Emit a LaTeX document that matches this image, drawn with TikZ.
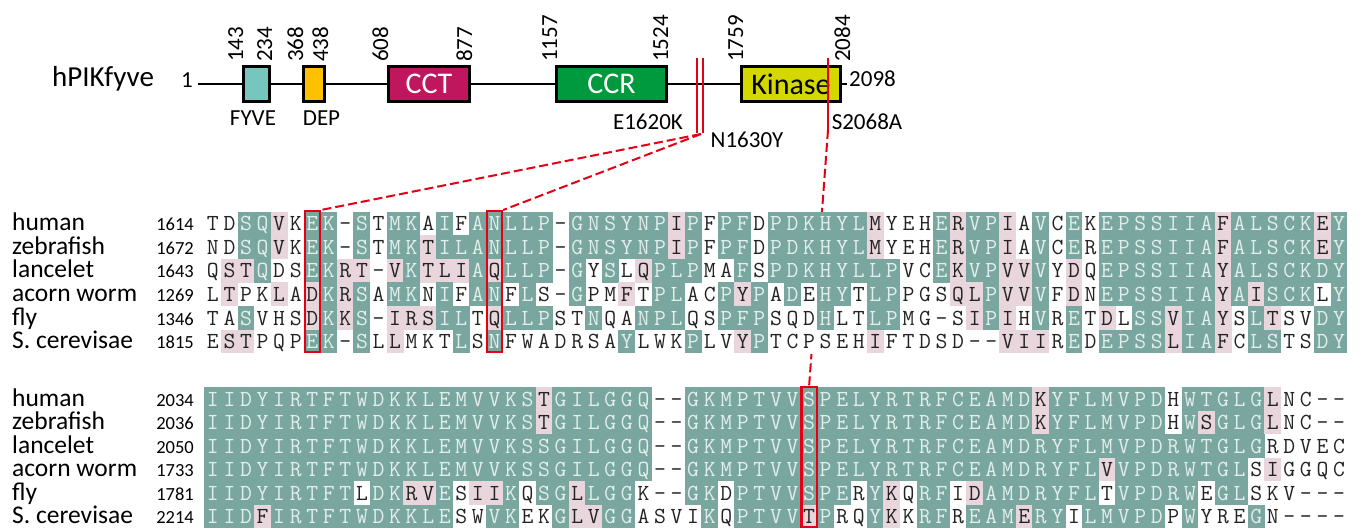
\documentclass[tikz,border=0pt]{standalone}
\usepackage{fontspec}
\setmainfont{Carlito}

\definecolor{identbg}{RGB}{121,167,160}
\definecolor{simbg}{RGB}{233,214,220}
\definecolor{lighttxt}{RGB}{226,238,235}
\definecolor{darktxt}{RGB}{35,35,35}
\definecolor{mutred}{RGB}{228,0,20}
\definecolor{fyvecol}{RGB}{118,198,190}
\definecolor{depcol}{RGB}{255,192,0}
\definecolor{cctcol}{RGB}{192,22,94}
\definecolor{ccrcol}{RGB}{0,154,62}
\definecolor{kincol}{RGB}{212,216,0}

\pgfdeclarelayer{bottom}
\pgfdeclarelayer{behind}
\pgfsetlayers{bottom,behind,main}

% alignment grid
\def\colxzero{212.9}
\def\colw{16.56}
\def\halfcol{8.45}
\def\rowh{23.8}
\newcount\colno

% one residue: letter #1, shading code #2 (t = identical, p = similar, w = none)
\newcommand\drawcell[2]{%
  \pgfmathsetmacro\cx{\colxzero+\colw*\the\colno}%
  \def\restxt{darktxt}%
  \if t#2\fill[identbg] (\cx-\halfcol,\rowtop) rectangle (\cx+\halfcol,\rowtop+\rowh);\def\restxt{lighttxt}\fi
  \if p#2\fill[simbg] (\cx-\halfcol,\rowtop) rectangle (\cx+\halfcol,\rowtop+\rowh);\fi
  \node[residue, text=\restxt] (\rowtag-\the\colno) at (\cx,\rowtop+19) {#1};}
\def\walkcells#1#2\stopA#3#4\stopB{%
  \ifx.#1\else
    \drawcell{#1}{#3}%
    \global\advance\colno by 1
    \walkcells#2\stopA#4\stopB
  \fi}
% tag, top of row, residues, shading
\newcommand\seqrow[4]{%
  \def\rowtag{#1}\def\rowtop{#2}%
  \global\colno=0
  \walkcells#3.\stopA#4.\stopB}

\tikzset{
  residue/.style={font=\ttfamily\fontsize{23}{23}\selectfont, anchor=base, inner sep=0pt},
  spname/.style={font=\fontsize{25.5}{25.5}\selectfont, anchor=base west, inner sep=0pt},
  startnum/.style={font=\fontsize{18.5}{18.5}\selectfont, anchor=base east, inner sep=0pt},
  dombox/.style={draw=black, line width=2.7pt, minimum height=35.5pt, inner sep=0pt, font=\fontsize{30}{30}\selectfont},
  posnum/.style={font=\fontsize{23}{23}\selectfont, rotate=90, anchor=base west, inner sep=0pt},
  domlabel/.style={font=\fontsize{23}{23}\selectfont, anchor=base, inner sep=0pt},
  hitbox/.style={draw=mutred, line width=2.4pt, minimum width=15.2pt, inner sep=0pt},
  mutline/.style={mutred, line width=2pt},
  mutdash/.style={mutred, line width=2pt, dash pattern=on 9pt off 4pt},
}

\begin{document}
\begin{tikzpicture}[x=1pt, y=-1pt]
  \useasboundingbox (0,0) rectangle (1362,529);
  \begin{pgfonlayer}{bottom}
    \fill[white] (0,0) rectangle (1362,529);
  \end{pgfonlayer}

  % domain map
  \node[anchor=base west, font=\fontsize{29}{29}\selectfont, inner sep=0pt] (prot) at (52,87) {hPIKfyve};
  \node[anchor=base east, font=\fontsize{23}{23}\selectfont, inner sep=0pt] (nterm) at (193,88) {1};
  \coordinate (lstart) at (198,84);
  \coordinate (lend) at (847,84);
  \draw[line width=2pt] (lstart) -- (lend);
  \node[dombox, fill=fyvecol, minimum width=26.4pt] (fyve) at (256.5,84) {};
  \node[dombox, fill=depcol, minimum width=21.4pt] (dep) at (314,84) {};
  \node[dombox, fill=cctcol, text=white, minimum width=81.4pt] (cct) at (429,84) {CCT};
  \node[dombox, fill=ccrcol, text=white, minimum width=110.4pt] (ccr) at (611.5,84) {CCR};
  \node[dombox, fill=kincol, minimum width=99.4pt] (kin) at (791,84) {Kinase};
  \node[domlabel] (fyvelab) at (253,126) {FYVE};
  \node[domlabel] (deplab) at (321.5,126) {DEP};
  \node[anchor=base west, font=\fontsize{23}{23}\selectfont, inner sep=0pt] (cterm) at (849,87) {2098};
  \foreach \x/\v in {243/143, 272/234, 303/368, 328/438, 388/608, 472/877, 557/1157, 668/1524, 743/1759, 850/2084}
    \node[posnum] (p\v) at (\x,62) {\v};

  % mutations
  \coordinate (ntopA) at (697,58);
  \coordinate (nbotA) at (697,133);
  \coordinate (ntopB) at (703,58);
  \coordinate (nbotB) at (703,133);
  \coordinate (nfoot) at (701,134);
  \coordinate (ktop) at (828,58);
  \coordinate (kbot) at (828,130);
  \draw[mutline] (ntopA) -- (nbotA);
  \draw[mutline] (ntopB) -- (nbotB);
  \draw[mutline] (ktop) -- (kbot);
  \node[domlabel] (mutE) at (648,130) {E1620K};
  \node[domlabel] (mutN) at (747,148) {N1630Y};
  \node[domlabel] (mutS) at (867,130) {S2068A};

  % first alignment block
  \fill[white] (204.5,212) rectangle (1348.5,353.5);
  \foreach \sp/\num [count=\r from 0] in {human/1614, zebrafish/1672, lancelet/1643, acorn worm/1269, fly/1346, S. cerevisae/1815} {
    \node[spname] (spA\r) at (12,231+23.5*\r) {\sp};
    \node[startnum] (stA\r) at (194,231+23.5*\r) {\num};
  }
  \seqrow{huA}{212}{TDSQVKEK-S TMKAIFANLL P-GNSYNPIP FPFDPDKHYL MYEHERVPIA VCEKEPSSII AFALSCKEY}
                   {wwttpwttwt wttwtwtttt twttttttpt wttwtttttt pwwwtpttpw twtwtttttt tptttttpt}
  \seqrow{zfA}{235.5}{NDSQVKEK-S TMKTILANLL P-GNSYNPIP FPFDPDKHYL MYEHERVPIA VCEREPSSII AFALSCKEY}
                     {wwttpwttwt wttptttttt twttttttpt wttwtttttt pwwwtpttpw twtwtttttt tptttttpt}
  \seqrow{lcA}{259}{QSTQDSEKRT -VKTLIAQLL P-GYSLQPLP MAFSPDKHYL LPVCEKVPVV VYDQEPSSII AYALSCKDY}
                   {wpptwwttpp wptppptptt twtwtwpttt wwtwtttttt ttwwtpttpp twpwtttttt tpttttttt}
  \seqrow{awA}{282.5}{LTPKLADKRS AMKNIFANFL S-GPMFTPLA CPYPADEHYT LPPGSQLPVV VFDNEPSSII AYAISCKLY}
                     {wpwwpwptpt wttwtwttwt wwtwwpwttw wtptwtwttw ttwwwpptpp twpwtttttt tptptttwt}
  \seqrow{flA}{306}{TASVHSDKKS -IRSILTQLL PSTNQANPLQ SPFPSQDHLT LPMG-SIPIH VRETDLSSVI AYSLTSVDY}
                   {wwtwwwptpt wpppttwptt twwtwwtttw wtttwwwtww ttwwwwptpw twtwpwttpt tpwtpwwtt}
  \seqrow{scA}{329.5}{ESTPQPEK-S LLMKTLSNFW ADRSAYLWKP LVYPTCPSEH IFTDSD--VI IREDEPSSLI AFCLSTSDY}
                     {wppwwwttwt wpwwwtwtww wwwwwtwwwt wwptwwwwww pwwwwwwwpp pwtwttttpt tpwttwwtt}

  % second alignment block
  \foreach \sp/\num [count=\r from 0] in {human/2034, zebrafish/2036, lancelet/2050, acorn worm/1733, fly/1781, S. cerevisae/2214} {
    \node[spname] (spB\r) at (12,406+23.5*\r) {\sp};
    \node[startnum] (stB\r) at (194,406+23.5*\r) {\num};
  }
  \seqrow{huB}{387}{IIDYIRTFTW DKKLEMVVKS TGILGGQ--G KMPTVVSPEL YRTRFCEAMD KYFLMVPDHW TGLGLNC--}
                   {tttttttttt tttttttttt pttttttwwt tttttttttt tttttttttt ptttttttwt ttttpwwww}
  \seqrow{zfB}{410.5}{IIDYIRTFTW DKKLEMVVKS TGILGGQ--G KMPTVVSPEL YRTRFCEAMD KYFLMVPDHW SGLGLNC--}
                     {tttttttttt tttttttttt pttttttwwt tttttttttt tttttttttt ptttttttwt ptttpwwww}
  \seqrow{lcB}{434}{IIDYIRTFTW DKKLEMVVKS SGILGGQ--G KMPTVVSPEL YRTRFCEAMD RYFLMVPDRW TGLGRDVEC}
                   {tttttttttt tttttttttt tttttttwwt tttttttttt tttttttttt tttttttttt ttttwwwww}
  \seqrow{awB}{457.5}{IIDYIRTFTW DKKLEMVVKS SGILGGQ--G KMPTVVSPEL YRTRFCEAMD RYFLVVPDRW TGLSIGGQC}
                     {tttttttttt tttttttttt tttttttwwt tttttttttt tttttttttt ttttpttttt tttwpwwww}
  \seqrow{flB}{481}{IIDYIRTFTL DKRVESIIKQ SGLLGGK--G KDPTVVSPER YKQRFIDAMD RYFLTVPDRW EGLSKV---}
                   {tttttttttw ttpptwpptw ttptttwwwt twtttttttw tpwttwpttt ttttwttttt wttwwwwww}
  \seqrow{scB}{504.5}{IIDFIRTFTW DKKLESWVKE KGLVGGASVI KQPTVVTPRQ YKKRFREAME RYILMVPDPW YREGN----}
                     {tttptttttt tttttwwttw wtppttwwww twttttptww tpwttwtttp ttwtttttwt wwwtwwwww}

  % highlighted residues
  \node[hitbox, minimum height=140.6pt] (boxE) at (312.3,281.5) {};
  \node[hitbox, minimum height=140.6pt] (boxN) at (494.4,281.5) {};
  \node[hitbox, minimum height=140pt] (boxS) at (809.1,457.2) {};
  \draw[mutdash] (nfoot) -- (boxE.north east);
  \draw[mutdash] (nfoot) -- (boxN.north east);
  \begin{pgfonlayer}{behind}
    \draw[mutdash] (kbot) -- (boxS.north);
  \end{pgfonlayer}
\end{tikzpicture}
\end{document}
